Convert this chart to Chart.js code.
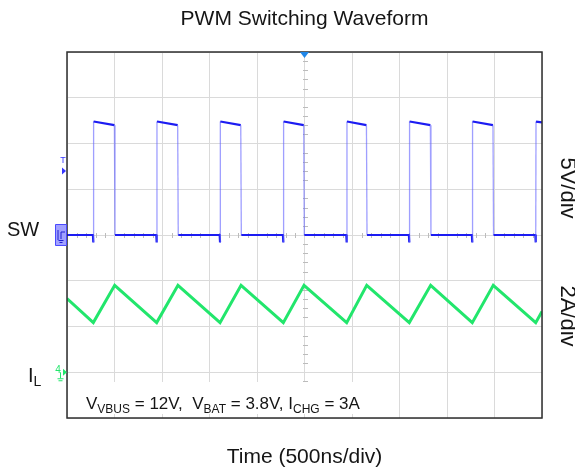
<!DOCTYPE html>
<html>
<head>
<meta charset="utf-8">
<script src="https://cdn.jsdelivr.net/npm/chart.js@4.4.1/dist/chart.umd.min.js"></script>
<style>
  html, body { margin: 0; padding: 0; background: #fff; }
</style>
</head>
<body>
<canvas id="scope" width="575" height="470"></canvas>
<script>
// time base: 500ns/div, 10 divisions
const timeMin = 0;
const timeMax = 5000;
const timeStep = 500;

// SW node (volts), 5V/div, ground on centre line
const swTime = [0, 273, 277, 280, 499, 505,
  940, 944, 947, 1165, 1171,
  1607, 1611, 1614, 1829, 1835,
  2273, 2277, 2280, 2492, 2498,
  2940, 2944, 2947, 3152, 3158,
  3599, 3603, 3606, 3825, 3831,
  4262, 4266, 4269, 4484, 4490,
  4930, 4934, 4937, 5000];
const swVolt = [0, 0, -0.8, 12.4, 12.0, 0,
  0, -0.8, 12.4, 12.0, 0,
  0, -0.8, 12.4, 12.0, 0,
  0, -0.8, 12.4, 12.0, 0,
  0, -0.8, 12.4, 12.0, 0,
  0, -0.8, 12.4, 12.0, 0,
  0, -0.8, 12.4, 12.0, 0,
  0, -0.8, 12.4, 12.3];

// inductor current (amps), 2A/div, ground 3 div below centre
const ilTime = [0, 277, 502, 944, 1168, 1611, 1832, 2277, 2495, 2944, 3155, 3603, 3828, 4266, 4487, 4934, 5000];
const ilAmp = [3.22, 2.17, 3.8, 2.17, 3.8, 2.17, 3.8, 2.17, 3.8, 2.17, 3.8, 2.17, 3.8, 2.17, 3.8, 2.17, 2.66];

const swColor = '#1c1cf2';
const swEdge = 'rgba(95,95,255,0.6)';
const ilColor = '#22e66c';
const textColor = '#151515';
const font = 'Liberation Sans, Arial, sans-serif';

function subText(ctx, x, y, parts, size, subSize) {
    parts.forEach(p => {
        ctx.font = (p[1] ? subSize : size) + 'px ' + font;
        ctx.fillText(p[0], x, y + (p[1] ? 4 : 0));
        x += ctx.measureText(p[0]).width;
    });
}

const scopeDecor = {
    id: 'scopeDecor',
    beforeDatasetsDraw(chart) {
        const ctx = chart.ctx;
        const xs = chart.scales.x;
        const ys = chart.scales.ySw;
        ctx.save();
        // minor ticks on the centre lines
        ctx.strokeStyle = '#bcbcbc';
        ctx.lineWidth = 1;
        const cx = Math.round(xs.getPixelForValue(2500)) + 0.5;
        const cy = Math.round(ys.getPixelForValue(0)) + 0.5;
        ctx.beginPath();
        for (let v = -20; v <= 20; v++) {
            if (v % 5 === 0) continue;
            const y = Math.round(ys.getPixelForValue(v)) + 0.5;
            ctx.moveTo(cx - 2.5, y);
            ctx.lineTo(cx + 2.5, y);
        }
        for (let t = timeMin; t <= timeMax; t += 100) {
            if (t % 500 === 0) continue;
            const x = Math.round(xs.getPixelForValue(t)) + 0.5;
            ctx.moveTo(x, cy - 2.5);
            ctx.lineTo(x, cy + 2.5);
        }
        ctx.stroke();
        // white box under the conditions note
        ctx.fillStyle = '#fff';
        ctx.fillRect(78, 382, 290, 32);
        ctx.restore();
    },
    afterDraw(chart) {
        const ctx = chart.ctx;
        const a = chart.chartArea;
        const xs = chart.scales.x;
        const ys = chart.scales.ySw;
        const yi = chart.scales.yIl;
        ctx.save();

        // frame
        ctx.strokeStyle = '#2e2e2e';
        ctx.lineWidth = 1.5;
        ctx.strokeRect(a.left, a.top, a.right - a.left, a.bottom - a.top);

        // trigger position marker
        const cx = xs.getPixelForValue(2500);
        ctx.fillStyle = '#1f86e8';
        ctx.beginPath();
        ctx.moveTo(cx - 4.5, a.top);
        ctx.lineTo(cx + 4.5, a.top);
        ctx.lineTo(cx, a.top + 6);
        ctx.closePath();
        ctx.fill();

        // trigger level marker
        const ty = ys.getPixelForValue(7);
        ctx.fillStyle = '#3535ff';
        ctx.beginPath();
        ctx.moveTo(a.left - 5, ty - 3.5);
        ctx.lineTo(a.left - 1, ty);
        ctx.lineTo(a.left - 5, ty + 3.5);
        ctx.closePath();
        ctx.fill();
        ctx.font = '9px ' + font;
        ctx.textAlign = 'center';
        ctx.textBaseline = 'alphabetic';
        ctx.fillText('T', a.left - 4, ty - 8);

        // channel 1 ground marker
        const g1 = ys.getPixelForValue(0);
        ctx.fillStyle = 'rgba(110,110,255,0.65)';
        ctx.strokeStyle = '#4a4aff';
        ctx.lineWidth = 1;
        ctx.beginPath();
        ctx.rect(55.5, g1 - 10.5, 11, 21);
        ctx.fill();
        ctx.stroke();
        ctx.strokeStyle = '#2020d0';
        ctx.beginPath();
        ctx.moveTo(58, g1 - 5); ctx.lineTo(58, g1 + 5);
        ctx.moveTo(61, g1 - 3); ctx.lineTo(61, g1 + 4);
        ctx.moveTo(58.5, g1 + 5.5); ctx.lineTo(63.5, g1 + 5.5);
        ctx.moveTo(59.5, g1 + 7.5); ctx.lineTo(62.5, g1 + 7.5);
        ctx.moveTo(61, g1 - 3); ctx.lineTo(65, g1 - 3);
        ctx.stroke();

        // channel 4 ground marker
        const g4 = yi.getPixelForValue(0);
        ctx.fillStyle = ilColor;
        ctx.strokeStyle = ilColor;
        ctx.beginPath();
        ctx.moveTo(a.left - 4, g4 - 3.5);
        ctx.lineTo(a.left, g4);
        ctx.lineTo(a.left - 4, g4 + 3.5);
        ctx.closePath();
        ctx.fill();
        ctx.font = '10px ' + font;
        ctx.fillText('4', a.left - 9, g4 + 1);
        ctx.beginPath();
        ctx.moveTo(a.left - 6.5, g4); ctx.lineTo(a.left - 6.5, g4 + 6);
        ctx.moveTo(a.left - 9.5, g4 + 6.5); ctx.lineTo(a.left - 3.5, g4 + 6.5);
        ctx.moveTo(a.left - 8.5, g4 + 8.5); ctx.lineTo(a.left - 4.5, g4 + 8.5);
        ctx.stroke();

        // labels
        ctx.fillStyle = textColor;
        ctx.textAlign = 'left';
        ctx.textBaseline = 'alphabetic';
        ctx.font = '20px ' + font;
        ctx.fillText('SW', 7, 236);
        subText(ctx, 28, 382, [['I', 0], ['L', 1]], 20, 14);

        ctx.textAlign = 'center';
        ctx.textBaseline = 'middle';
        ctx.font = '21px ' + font;
        ctx.fillText('Time (500ns/div)', (a.left + a.right) / 2, 457);

        ctx.font = '22px ' + font;
        [['5V/div', 188], ['2A/div', 316]].forEach(l => {
            ctx.save();
            ctx.translate(567, l[1]);
            ctx.rotate(Math.PI / 2);
            ctx.fillText(l[0], 0, 0);
            ctx.restore();
        });

        ctx.textAlign = 'left';
        ctx.textBaseline = 'alphabetic';
        subText(ctx, 86, 409, [
            ['V', 0], ['VBUS', 1], [' = 12V,  ', 0],
            ['V', 0], ['BAT', 1], [' = 3.8V, ', 0],
            ['I', 0], ['CHG', 1], [' = 3A', 0]
        ], 17, 12);
        ctx.restore();
    }
};

const ctx = document.getElementById('scope');
const gridStyle = { color: '#dadada', lineWidth: 1, drawTicks: false };

new Chart(ctx, {
    type: 'line',
    data: {
        datasets: [{
            label: 'SW',
            data: swTime.map((t, i) => ({ x: t, y: swVolt[i] })),
            yAxisID: 'ySw',
            borderColor: swColor,
            borderWidth: 2,
            pointRadius: 0,
            tension: 0,
            segment: {
                borderColor: c => Math.abs(c.p1.parsed.y - c.p0.parsed.y) > 5 ? swEdge : swColor,
                borderWidth: c => Math.abs(c.p1.parsed.y - c.p0.parsed.y) > 5 ? 1.3 : 2.2
            }
        }, {
            label: 'IL',
            data: ilTime.map((t, i) => ({ x: t, y: ilAmp[i] })),
            yAxisID: 'yIl',
            borderColor: ilColor,
            borderWidth: 3,
            pointRadius: 0,
            tension: 0
        }]
    },
    options: {
        responsive: false,
        animation: false,
        devicePixelRatio: 1,
        layout: { padding: { left: 67, right: 33, top: 0, bottom: 52 } },
        plugins: {
            legend: { display: false },
            tooltip: { enabled: false },
            title: {
                display: true,
                text: 'PWM Switching Waveform',
                color: textColor,
                font: { family: font, size: 21, weight: 'normal' },
                padding: { top: 7, bottom: 19.8 }
            }
        },
        scales: {
            x: {
                type: 'linear',
                min: timeMin,
                max: timeMax,
                ticks: { display: false, stepSize: timeStep },
                grid: gridStyle,
                border: { display: false }
            },
            ySw: {
                type: 'linear',
                position: 'left',
                min: -20,
                max: 20,
                ticks: { display: false, stepSize: 5 },
                grid: gridStyle,
                border: { display: false }
            },
            yIl: {
                type: 'linear',
                position: 'right',
                display: false,
                min: -2,
                max: 14
            }
        }
    },
    plugins: [scopeDecor]
});
</script>
</body>
</html>
